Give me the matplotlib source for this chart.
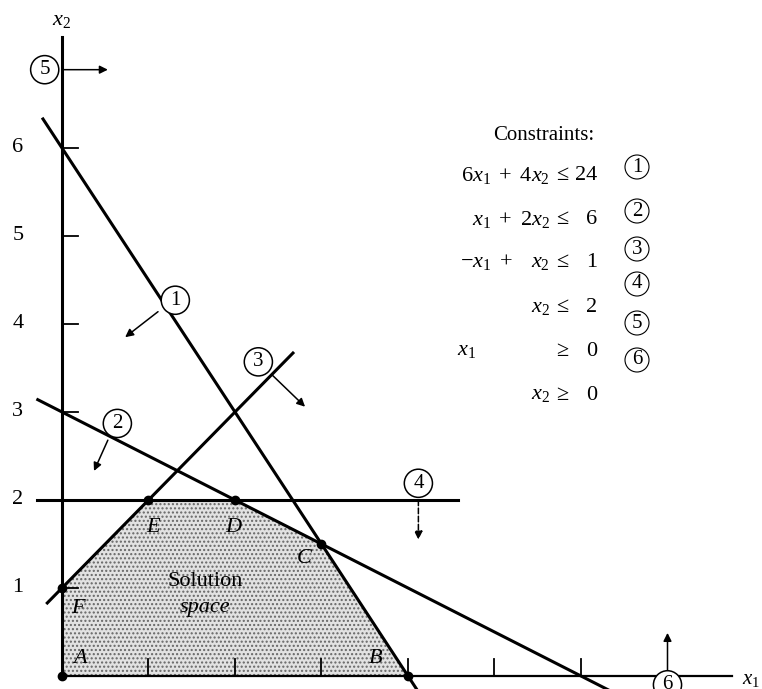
import matplotlib
matplotlib.use('Agg')
import matplotlib.pyplot as plt
from matplotlib.patches import Polygon

plt.rcParams['font.family'] = 'Liberation Serif'
plt.rcParams['mathtext.fontset'] = 'custom'
plt.rcParams['mathtext.rm'] = 'Liberation Serif'
plt.rcParams['mathtext.it'] = 'Liberation Serif:italic'

# constraints a1*x1 + a2*x2 = b, drawn over x1 range
a1 = [6, 1, -1]
a2 = [4, 2, 1]
b = [24, 6, 1]
x_start = [-0.22, -0.28, -0.17]
x_end = [4.3, 6.5, 2.67]

# feasible corner points
vert_names = ['A', 'B', 'C', 'D', 'E', 'F']
vert_x1 = [0, 4, 3, 2, 1, 0]
vert_x2 = [0, 0, 1.5, 2, 2, 1]

ticks = [1, 2, 3, 4, 5, 6]

# equation rows on the right
rows = [r'$6x_1\ +\ 4x_2$', r'$x_1\ +\ 2x_2$', r'$-x_1\ +\ \ \ x_2$', r'$x_2$', r'$x_1$', r'$x_2$']
rels = [r'$\leq$', r'$\leq$', r'$\leq$', r'$\leq$', r'$\geq$', r'$\geq$']
rhs = ['24', '6', '1', '2', '0', '0']

fig = plt.figure(figsize=(7.62, 6.89), dpi=100)
ax = fig.add_axes([0, 0, 1, 1])
ax.set_xlim(-62 / 86.5, 700 / 86.5)
ax.set_ylim(-13 / 88, 676 / 88)
ax.axis('off')

# solution space
poly = Polygon(list(zip(vert_x1, vert_x2)), closed=True, facecolor='#e2e2e2',
               edgecolor='#666666', hatch='....', linewidth=0, zorder=1)
ax.add_patch(poly)

# axes
ax.plot([0, 0], [0, 7.26], color='black', lw=2.2, zorder=3)
ax.plot([0, 7.75], [0, 0], color='black', lw=1.6, zorder=3)
for t in ticks:
    ax.plot([0, 0.19], [t, t], color='black', lw=1.3, zorder=3)
    ax.plot([t, t], [0, 0.19], color='black', lw=1.3, zorder=3)
    ax.text(-0.51, t, str(t), fontsize=16, ha='center', va='center')
ax.text(0.0, 7.45, r'$x_2$', fontsize=16, ha='center', va='center')
ax.text(7.86, -0.04, r'$x_1$', fontsize=15, ha='left', va='center')

# constraint lines
for i in range(3):
    xs = [x_start[i], x_end[i]]
    ys = [(b[i] - a1[i] * x) / a2[i] for x in xs]
    ax.plot(xs, ys, color='black', lw=2.2, zorder=3)
ax.plot([-0.29, 4.58], [2, 2], color='black', lw=2.2, zorder=3)

# circled labels and direction arrows
circ_style = dict(boxstyle='circle,pad=0.22', fc='white', ec='black', lw=1.1)
labels_pos = [(1.31, 4.27), (0.64, 2.87), (2.27, 3.57), (4.12, 2.19), (-0.2, 6.89), (7.0, -0.1)]
arrows = [((1.11, 4.14), (0.73, 3.85)), ((0.53, 2.68), (0.37, 2.33)),
          ((2.43, 3.42), (2.81, 3.06)), ((4.12, 2.0), (4.12, 1.55)),
          ((0.0, 6.89), (0.53, 6.89)), ((7.0, 0.0), (7.0, 0.49))]
for k in range(6):
    s, e = arrows[k]
    ax.annotate('', xy=e, xytext=s,
                arrowprops=dict(arrowstyle='-|>', lw=1.1, color='black',
                                mutation_scale=12, shrinkA=0, shrinkB=0,
                                linestyle='--' if k == 3 else '-'),
                zorder=4)
    ax.text(labels_pos[k][0], labels_pos[k][1], str(k + 1), fontsize=15,
            ha='center', va='center', bbox=circ_style, zorder=5)

# vertices
ax.plot(vert_x1, vert_x2, 'o', color='black', ms=6, zorder=6)
lab_pos = [(0.21, 0.2), (3.62, 0.2), (2.8, 1.34), (1.98, 1.69), (1.05, 1.69), (0.19, 0.77)]
for n, p in zip(vert_names, lab_pos):
    ax.text(p[0], p[1], n, fontsize=16, style='italic', ha='center', va='center', zorder=6)

ax.text(1.65, 1.07, 'Solution', fontsize=16, ha='center', va='center', zorder=6)
ax.text(1.65, 0.78, 'space', fontsize=16, style='italic', ha='center', va='center', zorder=6)

# constraint list
W, H = 762, 689
fig.text(544 / W, 1 - 136 / H, 'Constraints:', fontsize=15, ha='center', va='center')
row_y = [175, 219, 262, 307, 351, 395]
for i in range(6):
    y = 1 - row_y[i] / H
    if i == 4:
        fig.text(457 / W, y, rows[i], fontsize=16, ha='left', va='center')
    else:
        fig.text(550 / W, y, rows[i], fontsize=16, ha='right', va='center')
    fig.text(561 / W, y, rels[i], fontsize=16, ha='center', va='center')
    fig.text(597 / W, y, rhs[i], fontsize=16, ha='right', va='center')
circ_y = [167, 211, 249, 284, 323, 360]
list_circ = dict(boxstyle='circle,pad=0.12', fc='white', ec='black', lw=0.8)
for i in range(6):
    fig.text(637 / W, 1 - circ_y[i] / H, str(i + 1), fontsize=15,
             ha='center', va='center', bbox=list_circ)

fig.savefig('out.png', dpi=100)
